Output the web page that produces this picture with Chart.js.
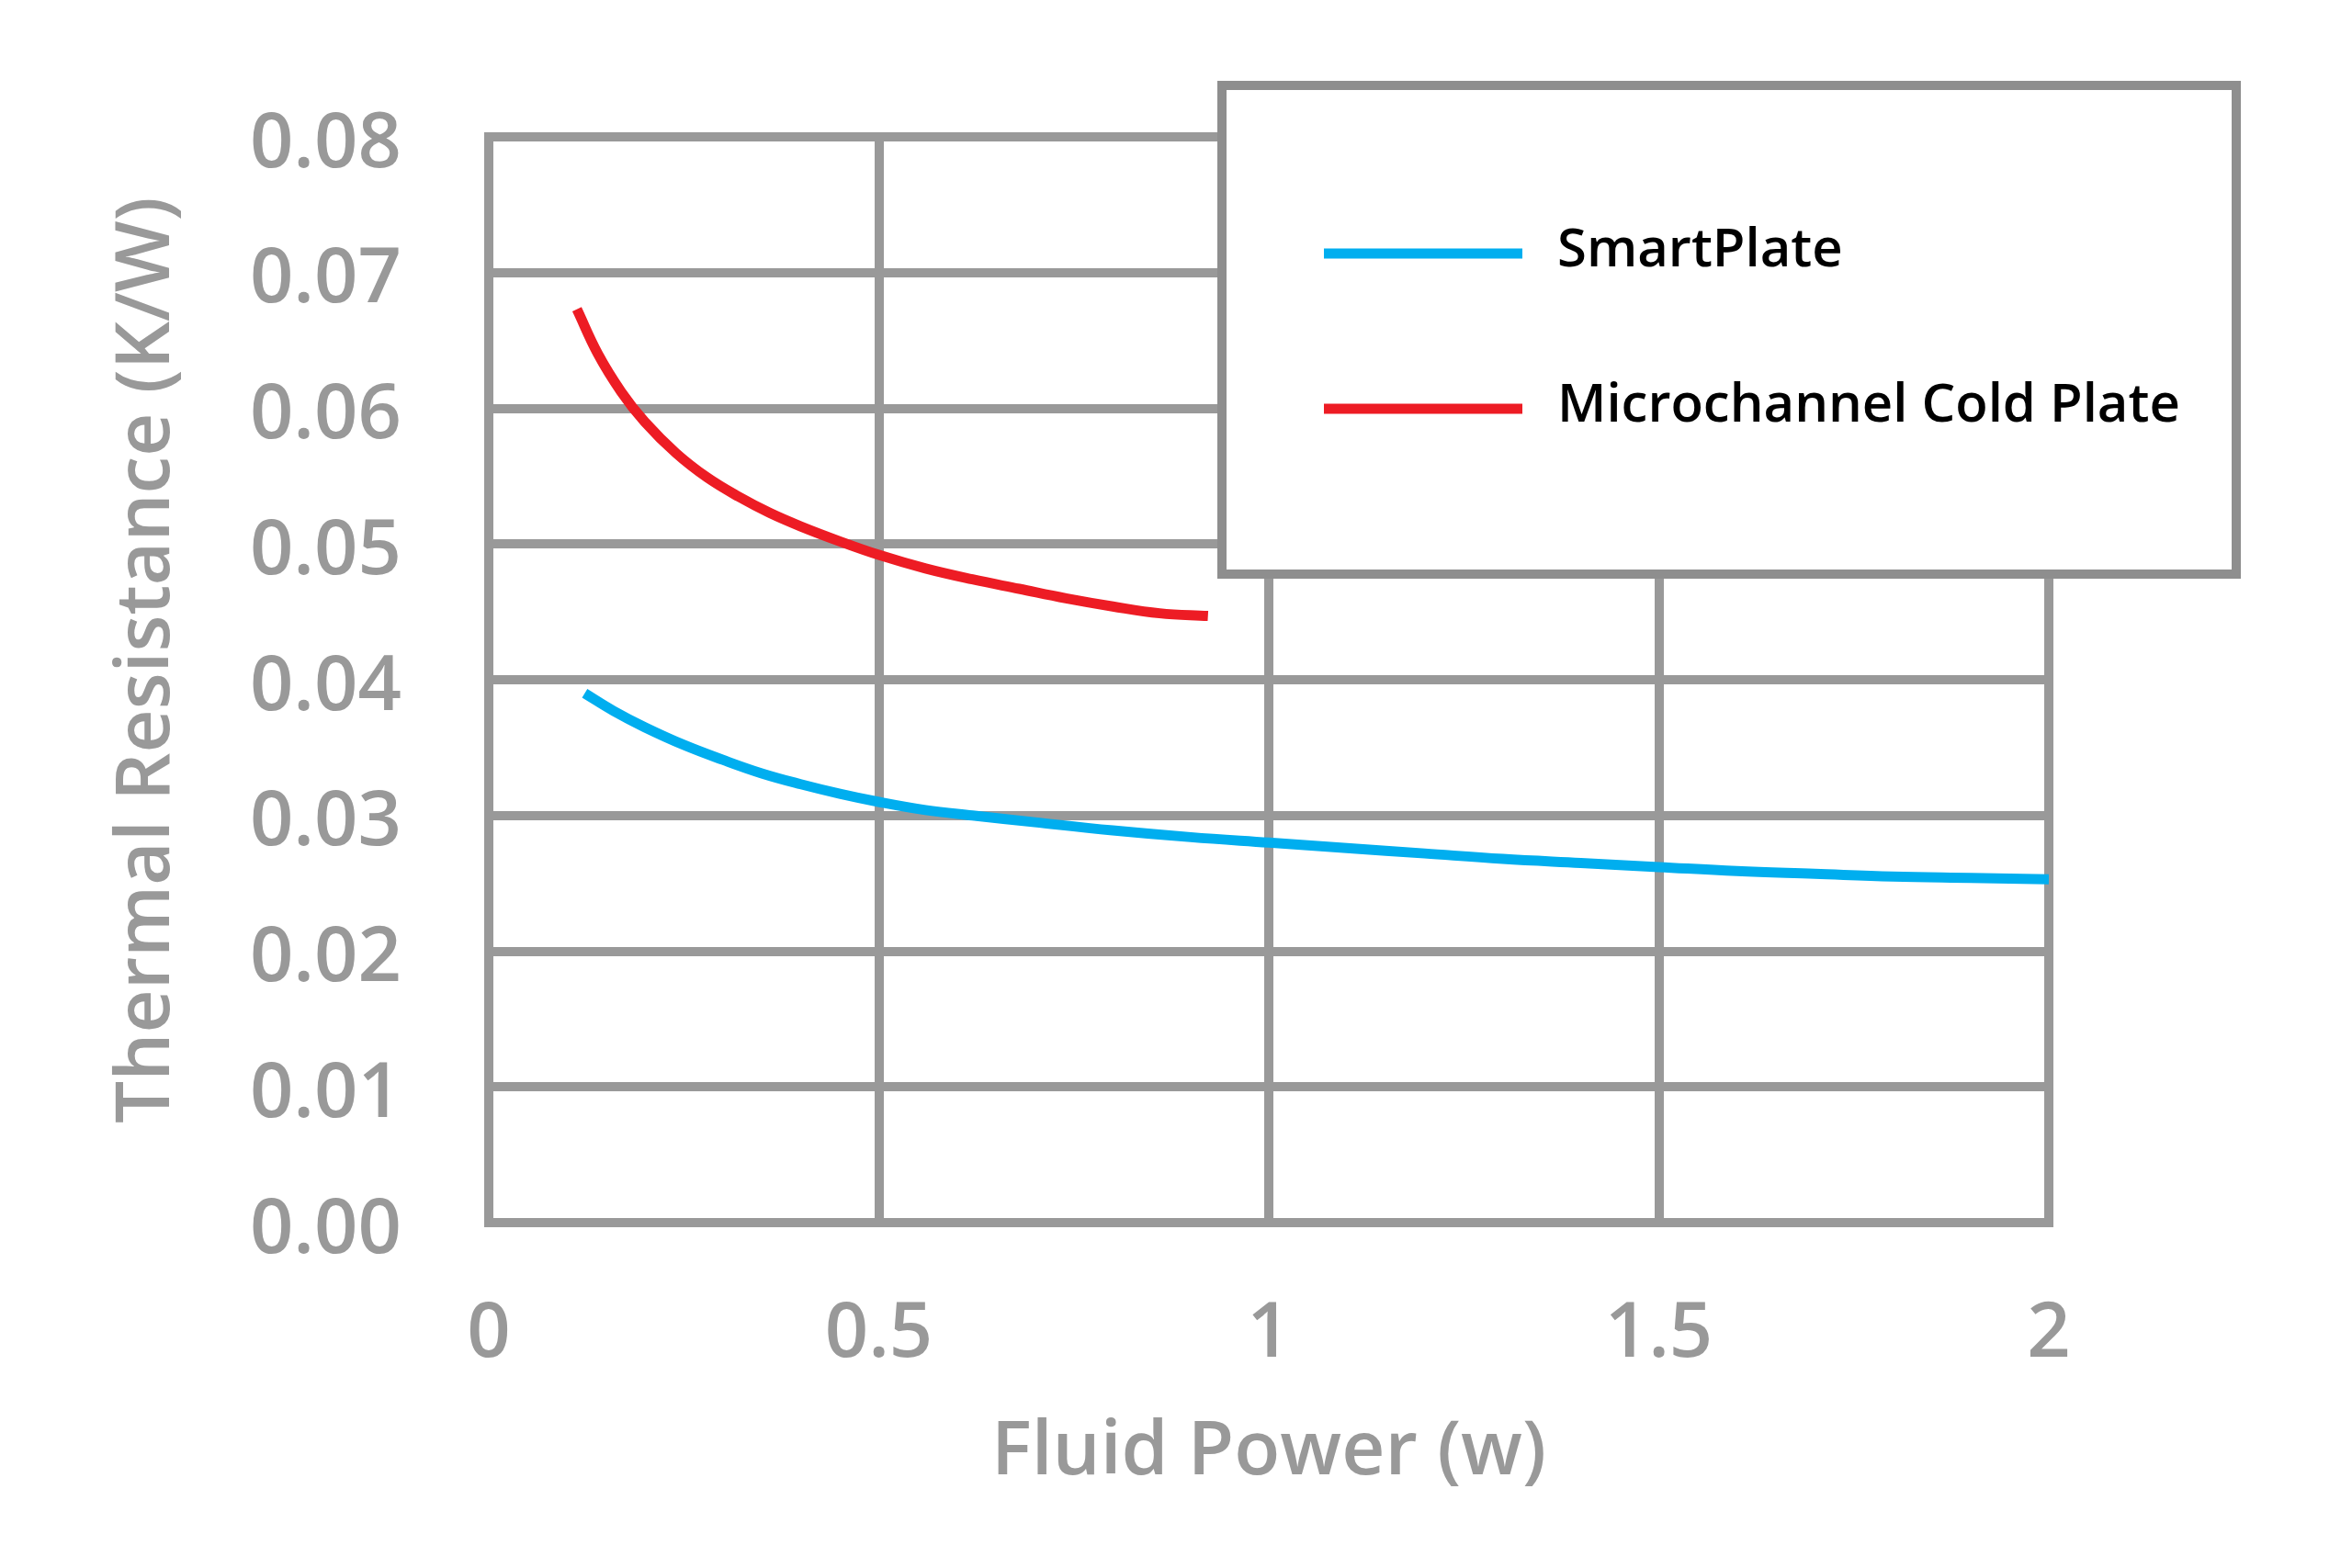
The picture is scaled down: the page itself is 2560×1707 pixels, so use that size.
<!DOCTYPE html>
<html>
<head>
<meta charset="utf-8">
<title>Thermal Resistance vs Fluid Power</title>
<script src="https://cdn.jsdelivr.net/npm/chart.js@4.4.1/dist/chart.umd.min.js"></script>
<style>
  html, body { margin: 0; padding: 0; background: #fff; }
  canvas { display: block; }
</style>
</head>
<body>
<canvas id="grafico" width="2560" height="1707"></canvas>
<script>
// valores
const seriesNames = ['SmartPlate', 'Microchannel Cold Plate'];

const smartPlateX = [0.123, 0.16, 0.2, 0.25, 0.3, 0.35, 0.4, 0.45, 0.5, 0.56, 0.62, 0.7, 0.8, 0.9, 1.0, 1.1, 1.2, 1.3, 1.4, 1.5, 1.6, 1.7, 1.8, 1.9, 2.0];
const smartPlateY = [0.0390, 0.0377, 0.0365, 0.0352, 0.0341, 0.0331, 0.0323, 0.0316, 0.0310, 0.0304, 0.0300, 0.0295, 0.0289, 0.0284, 0.0280, 0.0276, 0.0272, 0.0268, 0.0265, 0.0262, 0.0259, 0.0257, 0.0255, 0.0254, 0.0253];

const coldPlateX = [0.113, 0.14, 0.17, 0.2, 0.24, 0.28, 0.32, 0.36, 0.4, 0.45, 0.5, 0.56, 0.62, 0.68, 0.74, 0.8, 0.86, 0.922];
const coldPlateY = [0.0673, 0.0640, 0.0612, 0.0590, 0.0567, 0.0549, 0.0535, 0.0523, 0.0513, 0.0502, 0.0492, 0.0482, 0.0474, 0.0467, 0.0460, 0.0454, 0.0449, 0.0447];

const xTicks = [0, 0.5, 1, 1.5, 2];
const xTickLabels = ['0', '0.5', '1', '1.5', '2'];
const yTicks = [0, 0.01, 0.02, 0.03, 0.04, 0.05, 0.06, 0.07, 0.08];
const yTickLabels = ['0.00', '0.01', '0.02', '0.03', '0.04', '0.05', '0.06', '0.07', '0.08'];

const cinza = '#999999';
const fonte = '"Open Sans", "Noto Sans", sans-serif';

function pontos(xs, ys) {
  return xs.map((x, i) => ({ x: x, y: ys[i] }));
}

// legenda com caixa, desenhada por cima da grade
const legendaCaixa = {
  id: 'legendaCaixa',
  afterDraw(chart) {
    const ctx = chart.ctx;
    ctx.save();
    ctx.fillStyle = '#ffffff';
    ctx.fillRect(1330, 93, 1104, 532);
    ctx.strokeStyle = '#8e8e8e';
    ctx.lineWidth = 10;
    ctx.strokeRect(1330, 93, 1104, 532);

    const linhas = [276, 445];
    chart.data.datasets.forEach((ds, i) => {
      const y = linhas[i];
      ctx.strokeStyle = ds.borderColor;
      ctx.lineWidth = 11;
      ctx.lineCap = 'butt';
      ctx.beginPath();
      ctx.moveTo(1441, y);
      ctx.lineTo(1657, y);
      ctx.stroke();

      ctx.fillStyle = '#000000';
      ctx.font = '600 58px ' + fonte;
      ctx.textAlign = 'left';
      ctx.textBaseline = 'alphabetic';
      ctx.fillText(ds.label, 1695, y + 14);
    });
    ctx.restore();
  }
};

const ctx = document.getElementById('grafico').getContext('2d');
new Chart(ctx, {
  type: 'line',
  data: {
    datasets: [{
      label: seriesNames[0],
      data: pontos(smartPlateX, smartPlateY),
      borderColor: '#00aeef',
      borderWidth: 11,
      pointRadius: 0,
      tension: 0.4,
      fill: false
    }, {
      label: seriesNames[1],
      data: pontos(coldPlateX, coldPlateY),
      borderColor: '#ed1c24',
      borderWidth: 11,
      pointRadius: 0,
      tension: 0.4,
      fill: false
    }]
  },
  options: {
    responsive: false,
    animation: false,
    devicePixelRatio: 1,
    layout: { padding: { left: 0, top: 149, right: 330, bottom: 0 } },
    plugins: {
      legend: { display: false },
      tooltip: { enabled: false }
    },
    scales: {
      x: {
        type: 'linear',
        min: 0,
        max: 2,
        afterFit(s) { s.height = 376; },
        afterBuildTicks(s) { s.ticks = xTicks.map(v => ({ value: v })); },
        grid: { color: cinza, lineWidth: 10, drawTicks: false },
        border: { display: true, color: cinza, width: 10 },
        ticks: {
          padding: 73,
          color: cinza,
          font: { family: fonte, size: 83, weight: '600' },
          maxRotation: 0,
          callback: (v, i) => xTickLabels[i]
        },
        title: {
          display: true,
          text: 'Fluid Power (w)',
          color: cinza,
          font: { family: fonte, size: 82, weight: '600' },
          padding: { top: 0, bottom: 76 }
        }
      },
      y: {
        min: 0,
        max: 0.08,
        afterFit(s) { s.width = 532; },
        afterBuildTicks(s) { s.ticks = yTicks.map(v => ({ value: v })); },
        grid: { color: cinza, lineWidth: 10, drawTicks: false },
        border: { display: true, color: cinza, width: 10 },
        ticks: {
          padding: 95,
          labelOffset: 9,
          color: cinza,
          font: { family: fonte, size: 83, weight: '600' },
          callback: (v, i) => yTickLabels[i]
        },
        title: {
          display: true,
          text: '\u00a0\u00a0Thermal Resistance (K/W)',
          color: cinza,
          font: { family: fonte, size: 82, weight: '600' },
          padding: { top: 111, bottom: 0 }
        }
      }
    }
  },
  plugins: [legendaCaixa]
});
</script>
</body>
</html>
